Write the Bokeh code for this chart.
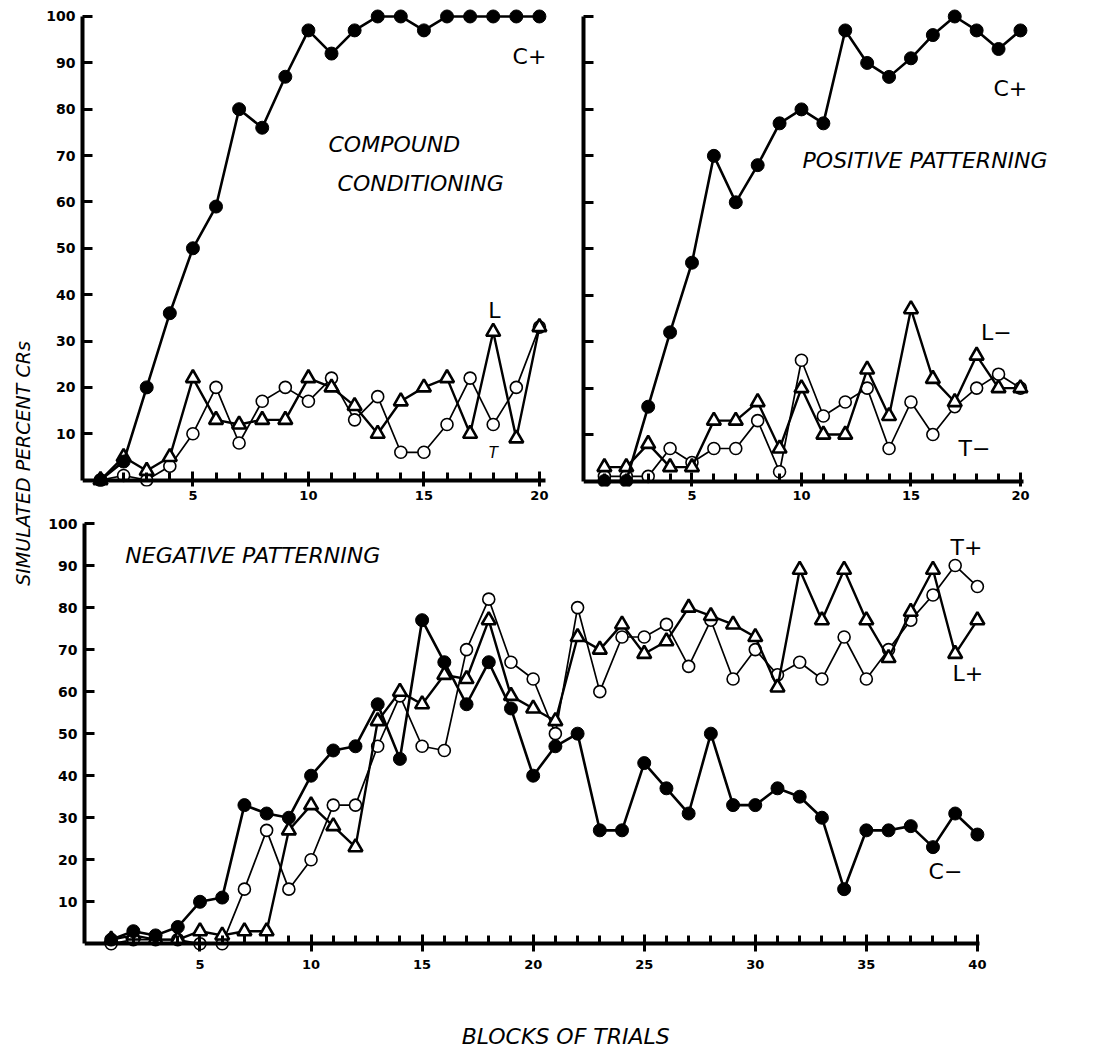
import math
from bokeh.plotting import figure
from bokeh.models import Range1d, FixedTicker, Label, LinearAxis
from bokeh.layouts import row, column
from bokeh.embed import file_html
from bokeh.resources import INLINE

# ---- data -------------------------------------------------------------
blocks20 = list(range(1, 21))
blocks40 = list(range(1, 41))

# compound conditioning
compound_c = [0, 4, 20, 36, 50, 59, 80, 76, 87, 97, 92, 97, 100, 100, 97, 100, 100, 100, 100, 100]
compound_l = [0, 5, 2, 5, 22, 13, 12, 13, 13, 22, 20, 16, 10, 17, 20, 22, 10, 32, 9, 33]
compound_t = [0, 1, 0, 3, 10, 20, 8, 17, 20, 17, 22, 13, 18, 6, 6, 12, 22, 12, 20, 33]

# positive patterning
positive_c = [0, 0, 16, 32, 47, 70, 60, 68, 77, 80, 77, 97, 90, 87, 91, 96, 100, 97, 93, 97]
positive_l = [3, 3, 8, 3, 3, 13, 13, 17, 7, 20, 10, 10, 24, 14, 37, 22, 17, 27, 20, 20]
positive_t = [1, 1, 1, 7, 4, 7, 7, 13, 2, 26, 14, 17, 20, 7, 17, 10, 16, 20, 23, 20]

# negative patterning
negative_c = [1, 3, 2, 4, 10, 11, 33, 31, 30, 40, 46, 47, 57, 44, 77, 67, 57, 67, 56, 40,
              47, 50, 27, 27, 43, 37, 31, 50, 33, 33, 37, 35, 30, 13, 27, 27, 28, 23, 31, 26]
negative_t = [0, 1, 1, 1, 0, 0, 13, 27, 13, 20, 33, 33, 47, 59, 47, 46, 70, 82, 67, 63,
              50, 80, 60, 73, 73, 76, 66, 77, 63, 70, 64, 67, 63, 73, 63, 70, 77, 83, 90, 85]
negative_l = [1, 2, 1, 1, 3, 2, 3, 3, 27, 33, 28, 23, 53, 60, 57, 64, 63, 77, 59, 56,
              53, 73, 70, 76, 69, 72, 80, 78, 76, 73, 61, 89, 77, 89, 77, 68, 79, 89, 69, 77]

y_ticks = [10, 20, 30, 40, 50, 60, 70, 80, 90, 100]
x_ticks20 = [5, 10, 15, 20]
x_ticks40 = [5, 10, 15, 20, 25, 30, 35, 40]

FONT = "DejaVu Sans"


def tick_axis(bounds, marks, tick_in, tick_out, line_width):
    """An unlabelled x axis pinned at y = 0 that only draws its line and ticks."""
    ax = LinearAxis(fixed_location=0, bounds=bounds,
                    ticker=FixedTicker(ticks=[], minor_ticks=marks))
    ax.axis_line_width = line_width
    ax.axis_line_color = "black" if line_width else None
    ax.minor_tick_line_width = 3
    ax.minor_tick_in = tick_in
    ax.minor_tick_out = tick_out
    ax.major_tick_in = 0
    ax.major_tick_out = 0
    ax.major_label_standoff = 0
    return ax


def make_panel(fw, fh, xr, yr, borders, x_major, x_minor, x_bounds, label_standoff,
               y_labels=True):
    left, right, top, bottom = borders
    p = figure(frame_width=fw, frame_height=fh, x_range=Range1d(*xr), y_range=Range1d(*yr),
               min_border_left=left, min_border_right=right,
               min_border_top=top, min_border_bottom=bottom,
               toolbar_location=None, output_backend="svg")
    p.xgrid.visible = False
    p.ygrid.visible = False
    p.outline_line_color = None
    p.background_fill_color = "white"
    p.border_fill_color = "white"

    # tick labels along the bottom of the frame
    xa = p.xaxis[0]
    xa.ticker = FixedTicker(ticks=x_major, minor_ticks=[])
    xa.axis_line_color = None
    xa.major_tick_line_color = None
    xa.major_tick_in = 0
    xa.major_tick_out = 0
    xa.minor_tick_in = 0
    xa.minor_tick_out = 0
    xa.major_label_standoff = label_standoff
    xa.major_label_text_font = FONT
    xa.major_label_text_font_style = "bold"
    xa.major_label_text_font_size = "13px"
    xa.major_label_text_color = "black"

    # axis line with block ticks, and longer ticks every fifth block
    p.add_layout(tick_axis(x_bounds, x_minor, 8, 0, 4), "below")
    p.add_layout(tick_axis(x_bounds, x_major, 9, 9, 0), "below")

    ya = p.yaxis[0]
    ya.bounds = (0, 100)
    ya.axis_line_width = 4
    ya.major_label_text_font = FONT
    ya.major_label_text_font_style = "bold"
    ya.major_label_text_color = "black"
    if y_labels:
        ya.ticker = FixedTicker(ticks=y_ticks, minor_ticks=[])
        ya.major_tick_line_width = 3
        ya.major_tick_in = 10
        ya.major_tick_out = 0
        ya.major_label_text_font_size = "14px"
        ya.major_label_standoff = 7
    else:
        ya.ticker = FixedTicker(ticks=[], minor_ticks=y_ticks)
        ya.minor_tick_line_width = 3
        ya.minor_tick_in = 10
        ya.minor_tick_out = 0
        ya.major_tick_in = 0
        ya.major_tick_out = 0
        ya.major_label_standoff = 0
    return p


def draw_filled(p, x, y):
    p.line(x, y, line_width=2.6, line_color="black")
    p.scatter(x, y, marker="circle", size=13, fill_color="black", line_color="black")


def draw_open(p, x, y):
    p.line(x, y, line_width=1.7, line_color="black")
    p.scatter(x, y, marker="circle", size=12, fill_color="white", line_color="black", line_width=1.6)


def draw_triangle(p, x, y):
    p.line(x, y, line_width=2.4, line_color="black")
    p.scatter(x, y, marker="triangle", size=14, fill_color="white", line_color="black", line_width=2.6)


def add_text(p, x, y, text, size, style="normal", align="left"):
    p.add_layout(Label(x=x, y=y, text=text, text_font=FONT, text_font_size=size,
                       text_font_style=style, text_align=align, text_baseline="middle",
                       text_color="black"))


minor20 = list(range(1, 21))
minor40 = list(range(1, 41))

# ---- compound conditioning ---------------------------------------------
p1 = make_panel(468, 478, (0.22, 20.48), (-1.38, 101.72), (42, 10, 8, 30),
                x_ticks20, minor20, (0.22, 20.25), 4)
draw_open(p1, blocks20, compound_t)
draw_triangle(p1, blocks20, compound_l)
draw_filled(p1, blocks20, compound_c)
add_text(p1, 18.84, 91.4, "C+", "22px")
add_text(p1, 10.87, 72.4, "COMPOUND", "22px", "italic")
add_text(p1, 11.26, 63.9, "CONDITIONING", "22px", "italic")
add_text(p1, 18.05, 36.6, "L", "22px", align="center")
add_text(p1, 18.0, 5.8, "T", "15px", "italic", align="center")

# ---- positive patterning ------------------------------------------------
p2 = make_panel(523, 478, (0.046, 23.93), (-1.18, 101.72), (23, 10, 8, 30),
                x_ticks20, minor20, (0.046, 20.15), 4, y_labels=False)
draw_open(p2, blocks20, positive_t)
draw_triangle(p2, blocks20, positive_l)
draw_filled(p2, blocks20, positive_c)
add_text(p2, 18.77, 84.6, "C+", "22px")
add_text(p2, 10.05, 69.0, "POSITIVE PATTERNING", "22px", "italic")
add_text(p2, 18.2, 32.0, "L\u2212", "22px")
add_text(p2, 17.17, 6.9, "T\u2212", "22px")

# ---- negative patterning ------------------------------------------------
p3 = make_panel(916, 435, (-0.2, 41.04), (-1.83, 101.67), (44, 116, 0, 32),
                x_ticks40, minor40, (-0.2, 40.1), 8)
draw_open(p3, blocks40, negative_t)
draw_triangle(p3, blocks40, negative_l)
draw_filled(p3, blocks40, negative_c)
add_text(p3, 1.64, 92.5, "NEGATIVE PATTERNING", "22px", "italic")
add_text(p3, 38.79, 94.2, "T+", "22px")
add_text(p3, 38.88, 64.2, "L+", "22px")
add_text(p3, 37.8, 17.2, "C\u2212", "22px")


def text_strip(width, height):
    s = figure(width=width, height=height, x_range=Range1d(0, width), y_range=Range1d(0, height),
               min_border=0, x_axis_type=None, y_axis_type=None,
               toolbar_location=None, output_backend="svg")
    s.outline_line_color = None
    s.xgrid.visible = False
    s.ygrid.visible = False
    return s


# ---- shared axis titles -------------------------------------------------
left_strip = text_strip(40, 1054)
left_strip.add_layout(Label(x=22, y=591, text="SIMULATED PERCENT CRs", angle=math.pi / 2,
                            text_align="center", text_baseline="middle", text_font=FONT,
                            text_font_style="italic", text_font_size="19px", text_color="black"))

bottom_strip = text_strip(1076, 71)
bottom_strip.add_layout(Label(x=443, y=18, text="BLOCKS OF TRIALS", text_align="left",
                              text_baseline="middle", text_font=FONT, text_font_style="italic",
                              text_font_size="22px", text_color="black"))

layout = row(left_strip, column(row(p1, p2), p3, bottom_strip))

with open("out.html", "w") as f:
    f.write(file_html(layout, INLINE))
